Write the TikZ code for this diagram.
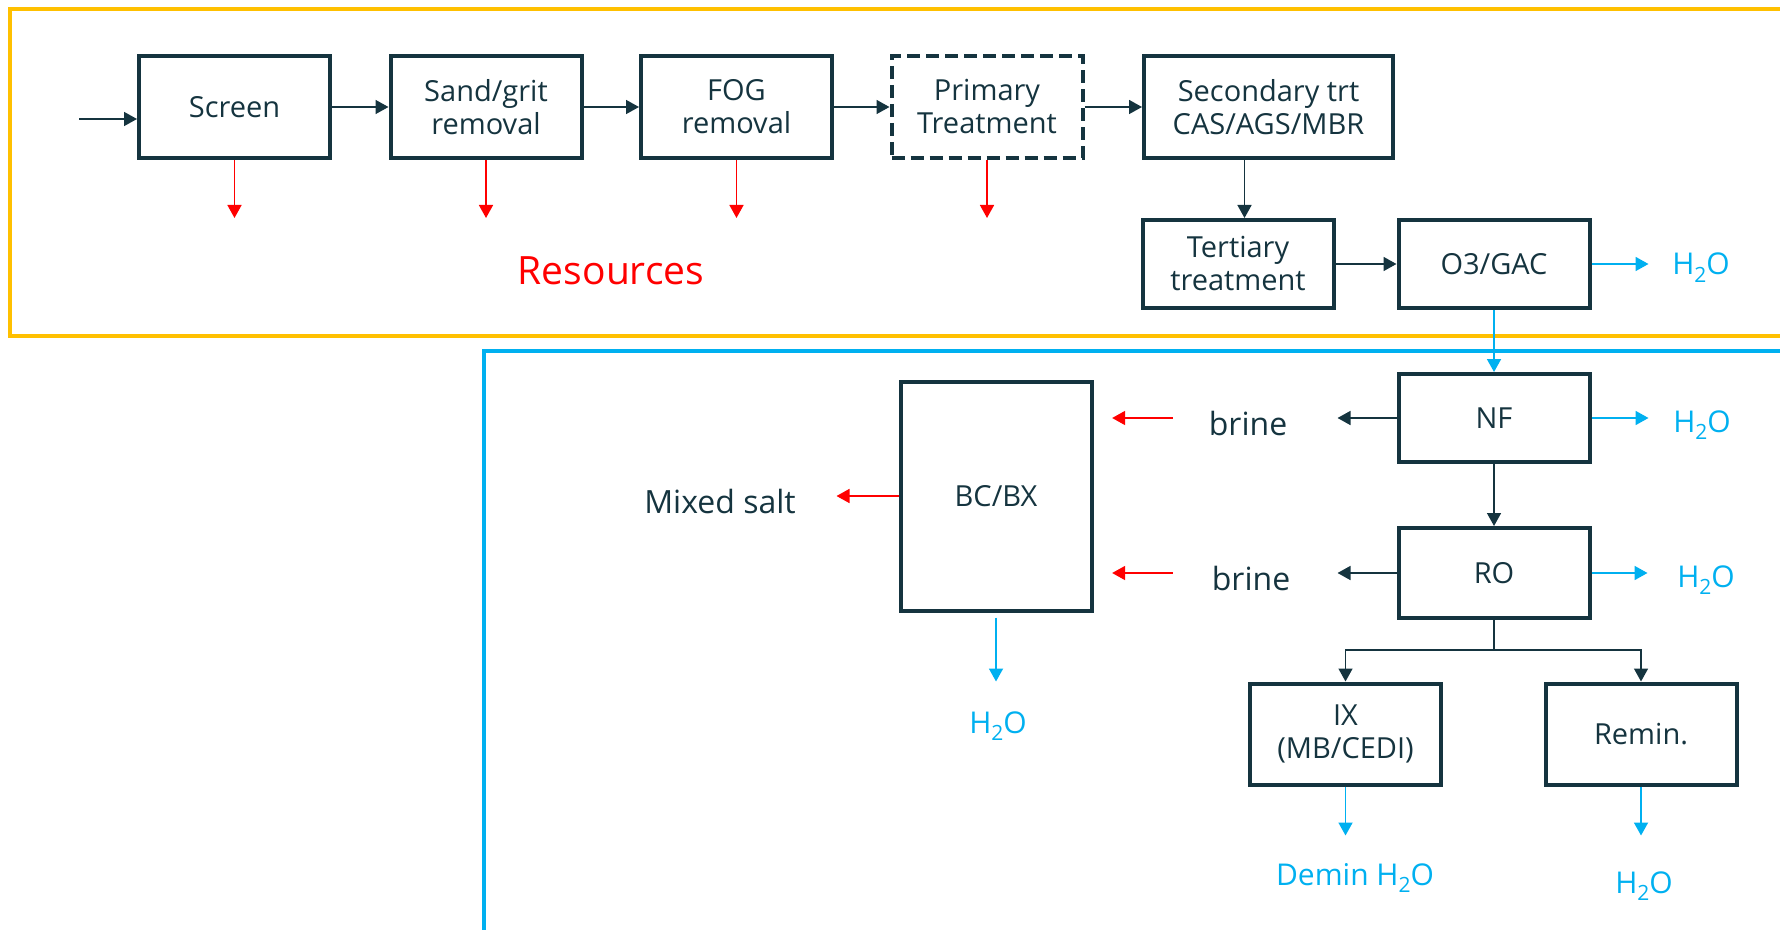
\documentclass[tikz,border=0pt]{standalone}
\usepackage{fontspec}
\setmainfont{Open Sans}
\usepackage{xcolor}
\usetikzlibrary{arrows.meta}
\definecolor{ink}{HTML}{15343F}
\definecolor{gold}{HTML}{FFC000}
\definecolor{sky}{HTML}{00B0F0}
\definecolor{alert}{HTML}{FF0000}
\newcommand{\water}{H\raisebox{-0.45ex}{\fontsize{10.5}{12}\selectfont 2}O}

\begin{document}
\begin{tikzpicture}[x=0.5pt,y=-0.5pt,
        unit/.style={draw=ink,line width=2pt,text=ink,align=center,inner sep=0pt,
            minimum width=95.5pt,minimum height=51pt,font=\fontsize{14.5}{16.5}\selectfont},
        flow/.style={draw=ink,line width=0.8pt,-{Triangle[length=6.5pt,width=7pt]}},
        waste/.style={draw=alert,line width=0.8pt,-{Triangle[length=6.5pt,width=7pt]}},
        water/.style={draw=sky,line width=0.9pt,-{Triangle[length=6.5pt,width=7pt]}},
        lbl/.style={anchor=base,inner sep=0pt,text=ink,font=\fontsize{16}{19}\selectfont},
        aqua/.style={anchor=base,inner sep=0pt,text=sky,font=\fontsize{15}{18}\selectfont}]
    \useasboundingbox (0,0) rectangle (1780,930);
    \clip (0,0) rectangle (1780,930);
    \draw[gold,line width=2pt] (1800,9) -- (10,9) -- (10,336) -- (1800,336);
    \draw[sky,line width=1.9pt] (484,940) -- (484,351) -- (1800,351);

    \node[unit] (scr) at (234.5,107) {Screen};
    \node[unit] (sand) at (486,107) {Sand/grit\\removal};
    \node[unit] (fog) at (736.5,107) {FOG\\removal};
    \node[unit,dash pattern=on 6.5pt off 3pt] (prim) at (987,107) {Primary\\Treatment};
    \node[unit,minimum width=124.5pt] (sec) at (1268.5,107) {Secondary trt\\CAS/AGS/MBR};
    \node[unit,minimum height=44pt] (tert) at (1238,264) {Tertiary\\treatment};
    \node[unit,minimum height=44pt] (ozo) at (1494,264) {O3/GAC};
    \node[unit,minimum height=44pt] (nf) at (1494,418) {NF};
    \node[unit,minimum height=45pt] (ro) at (1494,573) {RO};
    \node[unit,minimum height=50.5pt] (ix) at (1345.5,734) {IX\\(MB/CEDI)};
    \node[unit,minimum height=50.5pt] (remin) at (1641,734) {Remin.};
    \node[unit,minimum height=114.5pt] (bc) at (996,496) {BC/BX};

    \node[anchor=base,inner sep=0pt,text=alert,font=\fontsize{19.5}{23}\selectfont] (res) at (611,285) {Resources};
    \node[lbl] (brA) at (1248,435) {brine};
    \node[lbl] (brB) at (1251,590) {brine};
    \node[lbl] (salt) at (720,513) {Mixed salt};
    \node[aqua] (w1) at (1701,275) {\water};
    \node[aqua] (w2) at (1702,432) {\water};
    \node[aqua] (w3) at (1706,587) {\water};
    \node[aqua] (w4) at (998,733) {\water};
    \node[aqua] (demin) at (1355,885) {Demin \water};
    \node[aqua] (w5) at (1644,893) {\water};

    \coordinate (in) at (79,119);
    \draw[flow] (in) -- (in -| scr.west);
    \foreach \a/\b in {scr/sand,sand/fog,fog/prim,prim/sec}
        \draw[flow] (\a) -- (\b);
    \foreach \b in {scr,sand,fog,prim}
        \draw[waste] (\b.south) -- ++(0,58);
    \draw[flow] ([xshift=3.25pt]tert.north |- sec.south) -- ([xshift=3.25pt]tert.north);
    \draw[flow] (tert) -- (ozo);
    \draw[water] (ozo.east) -- ++(57,0);
    \draw[water] (ozo) -- (nf);
    \draw[water] (nf.east) -- ++(57,0);
    \draw[flow] (nf) -- (ro);
    \draw[water] (ro.east) -- ++(56,0);
    \draw[flow] (nf.west) -- ++(-59,0);
    \draw[flow] (ro.west) -- ++(-59,0);
    \draw[waste] ([xshift=39.5pt]bc.east |- nf) -- ([xshift=9.3pt]bc.east |- nf);
    \draw[waste] ([xshift=39.5pt]bc.east |- ro) -- ([xshift=9.3pt]bc.east |- ro);
    \draw[waste] (bc.west) -- ++(-62,0);
    \draw[water] ([yshift=-2.5pt]bc.south) -- ++(0,64);
    \draw[flow] (ro.south) -- ++(0,30) -| (ix.north);
    \draw[flow] (ro.south) -- ++(0,30) -| (remin.north);
    \draw[water] (ix.south) -- ++(0,49);
    \draw[water] (remin.south) -- ++(0,49);
\end{tikzpicture}
\end{document}
